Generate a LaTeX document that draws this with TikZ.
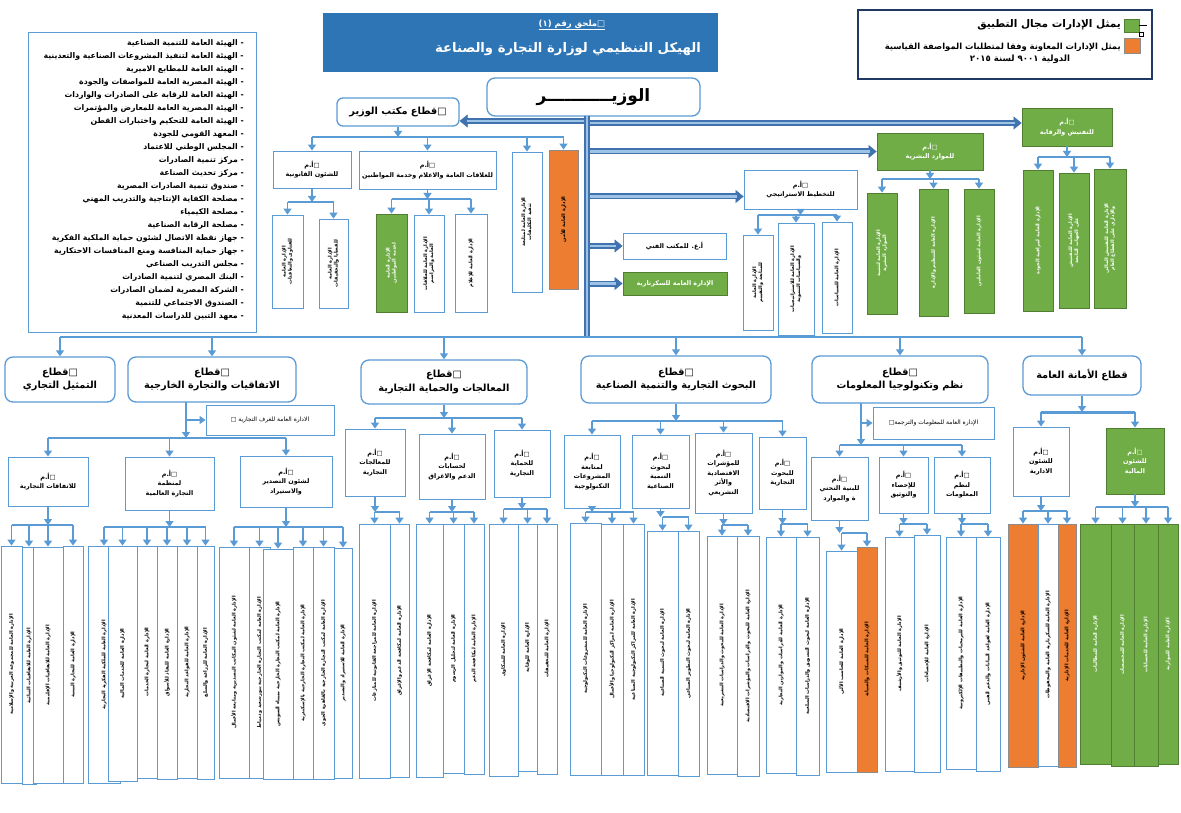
\documentclass[tikz,border=0pt]{standalone}
\usepackage{fontspec}
\usetikzlibrary{arrows.meta}
\TeXXeTstate=1
\newfontfamily\arf[Script=Arabic]{DejaVu Sans}
\newcommand\AR[1]{\beginR#1\endR}
\newcommand\fsz[2]{\fontsize{#1}{#2}\selectfont}
\newcommand\vt[1]{\rotatebox{90}{\AR{#1}}}
\newcommand\vtt[2]{\rotatebox{90}{\begin{tabular}{@{}c@{}}#1\\#2\end{tabular}}}
\newcommand\bx[7]{\node[#1, minimum width={#4-#2}, minimum height={#5-#3}] (#6) at ({(#2+#4)/2},{(#3+#5)/2}) {#7};}
\newcommand\tr[5]{\draw[arr] (#1.south) -- (#1.south |- 0,#2); \draw[ln] (#3.north |- 0,#2) -- (#4.north |- 0,#2); \foreach \c in {#5} {\draw[arr] (\c.north |- 0,#2) -- (\c.north);}}
\newcommand\blk[2]{\draw[tkh] (#1) -- (#2); \draw[tko, shorten >=7pt] (#1) -- (#2); \draw[tki, shorten >=7pt] (#1) -- (#2);}
\definecolor{bl}{HTML}{5B9BD5}
\definecolor{grn}{HTML}{70AD47}
\definecolor{grnb}{HTML}{507E32}
\definecolor{org}{HTML}{ED7D31}
\definecolor{orgb}{HTML}{8C8C8C}
\definecolor{ttl}{HTML}{2E75B6}
\definecolor{navy}{HTML}{1F3864}
\definecolor{tkd}{HTML}{3F72AF}
\definecolor{tkl}{HTML}{9DC3E6}
\begin{document}
\begin{tikzpicture}[x=1pt,y=-1pt, font=\arf\bfseries,
 ln/.style={draw=bl, line width=1.4pt},
 arr/.style={ln, -{Triangle[length=6pt,width=8pt]}},
 tko/.style={draw=tkd, line width=6pt},
 tki/.style={draw=tkl, line width=2.2pt},
 tkh/.style={draw=tkd, line width=0.5pt, -{Triangle[length=8pt,width=13pt]}},
 rb/.style={draw=bl, line width=1.3pt, rounded corners=8pt, fill=white, align=center, inner sep=1pt, font=\arf\bfseries\fsz{9.8}{13.5}},
 sb/.style={draw=bl, line width=0.9pt, fill=white, align=center, inner sep=1pt, font=\arf\bfseries\fsz{6.4}{9.5}},
 gb/.style={sb, fill=grn, draw=grnb, text=white},
 ob/.style={sb, fill=org, draw=orgb},
 vb/.style={draw=bl, line width=0.8pt, fill=white, inner sep=0pt, font=\arf\bfseries\fsz{4.9}{6}},
 vg/.style={vb, fill=grn, draw=grnb, text=white},
 vo/.style={vb, fill=org, draw=orgb}]
\useasboundingbox (0,0) rectangle (1181,813);
\fill[white] (0,0) rectangle (1181,813);

% title
\node[fill=ttl, draw=ttl, minimum width=394, minimum height=58, inner sep=0] (ttl) at (520,42) {};
\node[text=white, font=\arf\bfseries\fsz{8.5}{10}] (tt1) at (572,25) {\underline{\AR{□ملحق رقم (١)}}};
\node[text=white, font=\arf\bfseries\fsz{13.2}{16}] (tt2) at (568,49) {\AR{الهيكل التنظيمي لوزارة التجارة والصناعة}};

% legend
\node[draw=navy, line width=2.5pt, minimum width=294, minimum height=69, inner sep=0] (lgd) at (1005,44.5) {};
\node[fill=grn, draw=grnb, minimum width=15, minimum height=13, inner sep=0] (lg) at (1131.5,25.5) {};
\node[fill=org, draw=orgb, minimum width=16, minimum height=15, inner sep=0] (lo) at (1132,45.5) {};
\draw[black, line width=0.6pt] (lg.east) -- ++(8,0);
\node[draw=black, line width=0.4pt, minimum size=4, inner sep=0] (lsq) at (1141,34) {};
\node[anchor=east, inner sep=0, font=\arf\bfseries\fsz{10.5}{12}] (lgt) at (1121,25) {\AR{يمثل الإدارات مجال التطبيق}};
\node[anchor=east, inner sep=0, font=\arf\bfseries\fsz{8.4}{11}] (lot) at (1121,47) {\AR{يمثل الإدارات المعاونة وفقا لمتطلبات المواصفة القياسية}};
\node[inner sep=0, font=\arf\bfseries\fsz{8.6}{11}] (lot2) at (1020,59.5) {\AR{الدولية ٩٠٠١ لسنة ٢٠١٥}};

% left list
\node[draw=bl, line width=1pt, minimum width=228, minimum height=300, inner sep=0] (lst) at (142,182.5) {};
\node[anchor=north east, align=right, inner sep=0, font=\arf\bfseries\fsz{7.8}{13}] (lsttx) at (244,39) {%
\AR{- الهيئة العامة للتنمية الصناعية}\\
\AR{- الهيئة العامة لتنفيذ المشروعات الصناعية والتعدينية}\\
\AR{- الهيئة العامة للمطابع الاميرية}\\
\AR{- الهيئة المصرية العامة للمواصفات والجودة}\\
\AR{- الهيئة العامة للرقابة على الصادرات والواردات}\\
\AR{- الهيئة المصرية العامة للمعارض والمؤتمرات}\\
\AR{- الهيئة العامة للتحكيم واختبارات القطن}\\
\AR{- المعهد القومي للجودة}\\
\AR{- المجلس الوطني للاعتماد}\\
\AR{- مركز تنمية الصادرات}\\
\AR{- مركز تحديث الصناعة}\\
\AR{- صندوق تنمية الصادرات المصرية}\\
\AR{- مصلحة الكفاية الإنتاجية والتدريب المهني}\\
\AR{- مصلحة الكيمياء}\\
\AR{- مصلحة الرقابة الصناعية}\\
\AR{- جهاز نقطة الاتصال لشئون حماية الملكية الفكرية}\\
\AR{- جهاز حماية المنافسة ومنع المنافسات الاحتكارية}\\
\AR{- مجلس التدريب الصناعي}\\
\AR{- البنك المصري لتنمية الصادرات}\\
\AR{- الشركة المصرية لضمان الصادرات}\\
\AR{- الصندوق الاجتماعي للتنمية}\\
\AR{- معهد التبين للدراسات المعدنية}};

% minister and top level
\node[rb, minimum width=213, minimum height=38, font=\arf\bfseries\fsz{17}{20}] (min) at (593.5,97) {\AR{الوزيـــــــــــر}};
\bx{rb, rounded corners=6pt}{337}{98}{459}{126}{off}{\AR{□قطاع مكتب الوزير}}
\bx{sb}{273}{151}{351}{188}{leg}{\AR{□أ.م}\\\AR{للشئون القانونية}}
\bx{sb}{359}{151}{496}{189}{pr}{\AR{□أ.م}\\\AR{للعلاقات العامة والاعلام وخدمة المواطنين}}
\bx{vb}{512}{152}{542}{292}{w1}{\vtt{\AR{الإدارة العامة لمتابعة}}{\AR{تنفيذ التكليفات}}}
\bx{vo}{549}{150}{578}{289}{o1}{\vt{الإدارة العامة للأمن}}
\bx{vb}{272}{215}{303}{308}{lc1}{\vtt{\AR{الإدارة العامة}}{\AR{للفتاوى والتعاقدات}}}
\bx{vb}{319}{219}{348}{308}{lc2}{\vtt{\AR{الإدارة العامة}}{\AR{للقضايا والتحقيقات}}}
\bx{vg}{376}{214}{407}{312}{pc1}{\vtt{\AR{الإدارة العامة}}{\AR{لخدمة المواطنين}}}
\bx{vb}{414}{215}{444}{312}{pc2}{\vtt{\AR{الإدارة العامة للعلاقات}}{\AR{العامة والمراسم}}}
\bx{vb}{455}{214}{487}{312}{pc3}{\vt{الإدارة العامة للإعلام}}

\bx{sb}{744}{170}{857}{209}{sp}{\AR{□أ.م}\\\AR{للتخطيط الاستراتيجي}}
\bx{vb}{743}{235}{773}{330}{sc1}{\vtt{\AR{الإدارة العامة}}{\AR{للمتابعة والتقييم}}}
\bx{vb}{778}{223}{814}{335}{sc2}{\vtt{\AR{الإدارة العامة للاستراتيجيات}}{\AR{والسياسات التنموية}}}
\bx{vb}{822}{222}{852}{333}{sc3}{\vt{الإدارة العامة للسياسات}}
\bx{sb}{623}{233}{726}{259}{tech}{\AR{أ.ع. للمكتب الفني}}
\bx{gb}{623}{272}{727}{295}{sec}{\AR{الإدارة العامة للسكرتارية}}

\bx{gb}{877}{133}{983}{170}{hr}{\AR{□أ.م}\\\AR{للموارد البشرية}}
\bx{vg}{867}{193}{897}{314}{hc1}{\vtt{\AR{الإدارة العامة لتنمية}}{\AR{الموارد البشرية}}}
\bx{vg}{919}{189}{948}{316}{hc2}{\vt{الإدارة العامة للتنظيم والإدارة}}
\bx{vg}{964}{189}{994}{313}{hc3}{\vt{الإدارة العامة لشئون العاملين}}
\bx{gb}{1022}{108}{1112}{146}{ins}{\AR{□أ.م}\\\AR{للتفتيش والرقابة}}
\bx{vg}{1023}{170}{1053}{311}{ic1}{\vt{الإدارة العامة لمراقبة الجودة}}
\bx{vg}{1059}{173}{1089}{308}{ic2}{\vtt{\AR{الإدارة العامة للتفتيش}}{\AR{على الجهات التابعة}}}
\bx{vg}{1094}{169}{1126}{308}{ic3}{\vtt{\AR{الإدارة العامة للتفتيش المالي}}{\AR{والإداري على القطاع العام}}}

% sectors
\bx{rb}{5}{357}{115}{402}{s1}{\AR{□قطاع}\\\AR{التمثيل التجاري}}
\bx{rb}{128}{357}{296}{402}{s2}{\AR{□قطاع}\\\AR{الاتفاقيات والتجارة الخارجية}}
\bx{rb}{361}{360}{527}{404}{s3}{\AR{□قطاع}\\\AR{المعالجات والحماية التجارية}}
\bx{rb}{581}{356}{771}{403}{s4}{\AR{□قطاع}\\\AR{البحوث التجارية والتنمية الصناعية}}
\bx{rb}{812}{356}{988}{403}{s5}{\AR{□قطاع}\\\AR{نظم وتكنولوجيا المعلومات}}
\bx{rb}{1023}{356}{1141}{395}{s6}{\AR{قطاع الأمانة العامة}}

\bx{sb, font=\arf\fsz{6}{8}}{206}{405}{334}{435}{gt}{\AR{الادارة العامة للغرف التجارية □}}
\bx{sb}{8}{457}{88}{506}{a1}{\AR{□أ.م}\\\AR{للاتفاقات التجارية}}
\bx{sb}{125}{457}{214}{510}{a2}{\AR{□أ.م}\\\AR{لمنظمة}\\\AR{التجارة العالمية}}
\bx{sb}{240}{456}{332}{507}{a3}{\AR{□أ.م}\\\AR{لشئون التصدير}\\\AR{والاستيراد}}
\bx{sb}{345}{429}{405}{496}{m1}{\AR{□أ.م}\\\AR{للمعالجات}\\\AR{التجارية}}
\bx{sb}{419}{434}{485}{499}{m2}{\AR{□أ.م}\\\AR{لحسابات}\\\AR{الدعم والاغراق}}
\bx{sb}{494}{430}{550}{497}{m3}{\AR{□أ.م}\\\AR{للحماية}\\\AR{التجارية}}
\bx{sb}{564}{435}{620}{508}{r1}{\AR{□أ.م}\\\AR{لمتابعة}\\\AR{المشروعات}\\\AR{التكنولوجية}}
\bx{sb}{632}{435}{689}{508}{r2}{\AR{□أ.م}\\\AR{لبحوث}\\\AR{التنمية}\\\AR{الصناعية}}
\bx{sb}{695}{433}{752}{513}{r3}{\AR{□أ.م}\\\AR{للمؤشرات}\\\AR{الاقتصادية}\\\AR{والأثر}\\\AR{التشريعي}}
\bx{sb}{759}{437}{806}{509}{r4}{\AR{□أ.م}\\\AR{للبحوث}\\\AR{التجارية}}
\bx{sb, font=\arf\fsz{6}{8}}{873}{407}{994}{439}{it}{\AR{الإدارة العامة للمعلومات والترجمة□}}
\bx{sb}{811}{457}{868}{520}{i1}{\AR{□أ.م}\\\AR{للبنية التحتي}\\\AR{ة والموارد}}
\bx{sb}{879}{457}{928}{513}{i2}{\AR{□أ.م}\\\AR{للإحصاء}\\\AR{والتوثيق}}
\bx{sb}{934}{457}{990}{513}{i3}{\AR{□أ.م}\\\AR{لنظم}\\\AR{المعلومات}}
\bx{sb}{1013}{427}{1069}{496}{g1}{\AR{□أ.م}\\\AR{للشئون}\\\AR{الادارية}}
\bx{gb}{1106}{428}{1164}{494}{g2}{\AR{□أ.م}\\\AR{للشئون}\\\AR{المالية}}

% bottom row
\bx{vb}{1}{546}{22}{783}{b11}{\vt{الإدارة العامة للمجموعة العربية والإسلامية}}
\bx{vb}{22}{547}{36}{784}{b12}{\vt{الإدارة العامة للاتفاقيات الثنائية}}
\bx{vb}{33}{547}{63}{783}{b13}{\vt{الإدارة العامة للاتفاقيات الإقليمية}}
\bx{vb}{63}{546}{83}{783}{b14}{\vt{الإدارة العامة للتجارة البينية}}
\bx{vb}{88}{546}{120}{783}{b21}{\vt{الإدارة العامة للملكية الفكرية التجارية}}
\bx{vb}{108}{546}{137}{781}{b22}{\vt{الإدارة العامة للخدمات المالية}}
\bx{vb}{137}{546}{157}{778}{b23}{\vt{الإدارة العامة لتجارة الخدمات}}
\bx{vb}{157}{546}{177}{779}{b24}{\vt{الإدارة العامة للنفاذ للأسواق}}
\bx{vb}{177}{546}{197}{778}{b25}{\vt{الإدارة العامة للقواعد التجارية}}
\bx{vb}{197}{546}{214}{779}{b26}{\vt{الإدارة العامة للزراعة والسلع}}
\bx{vb}{219}{547}{249}{778}{b31}{\vt{الإدارة العامة لشئون المكاتب التصديرية ومتابعة الأعمال}}
\bx{vb}{249}{547}{270}{778}{b32}{\vt{الإدارة العامة لمكتب التجارة الخارجية ببورسعيد ودمياط}}
\bx{vb}{263}{549}{293}{779}{b33}{\vt{الإدارة العامة لمكتب التجارة الخارجية بميناء السويس}}
\bx{vb}{293}{547}{313}{779}{b34}{\vt{الإدارة العامة لمكتب التجارة الخارجية بالإسكندرية}}
\bx{vb}{313}{547}{334}{779}{b35}{\vt{الإدارة العامة لمكتب التجارة الخارجية بالقاهرة الجوي}}
\bx{vb}{334}{548}{352}{778}{b36}{\vt{الإدارة العامة للاستيراد والتصدير}}
\bx{vb}{359}{524}{390}{778}{bm11}{\vt{الإدارة العامة للمراجعة القانونية للمنازعات}}
\bx{vb}{390}{524}{409}{777}{bm12}{\vt{الإدارة العامة لمكافحة الدعم والإغراق}}
\bx{vb}{416}{524}{443}{777}{bm21}{\vt{الإدارة العامة لمكافحة الإغراق}}
\bx{vb}{443}{524}{464}{773}{bm22}{\vt{الإدارة العامة لتحليل الرسوم}}
\bx{vb}{464}{524}{484}{774}{bm23}{\vt{الإدارة العامة لمكافحة الدعم}}
\bx{vb}{489}{524}{518}{776}{bm31}{\vt{الإدارة العامة للشكاوى}}
\bx{vb}{518}{524}{537}{771}{bm32}{\vt{الإدارة العامة للوقاية}}
\bx{vb}{537}{524}{557}{774}{bm33}{\vt{الإدارة العامة للتحقيقات}}
\bx{vb}{570}{523}{601}{775}{br11}{\vt{الإدارة العامة للمشروعات التكنولوجية}}
\bx{vb}{601}{524}{623}{775}{br12}{\vt{الإدارة العامة لمراكز التكنولوجيا والأعمال}}
\bx{vb}{623}{524}{644}{775}{br13}{\vt{الإدارة العامة للمراكز التكنولوجية الصناعية}}
\bx{vb}{647}{531}{678}{775}{br21}{\vt{الإدارة العامة لبحوث التنمية الصناعية}}
\bx{vb}{678}{531}{699}{776}{br22}{\vt{الإدارة العامة لبحوث التطوير الصناعي}}
\bx{vb}{707}{536}{737}{774}{br31}{\vt{الإدارة العامة للبحوث والدراسات التشريعية}}
\bx{vb}{737}{536}{759}{776}{br32}{\vt{الإدارة العامة للبحوث والدراسات والمؤشرات الاقتصادية}}
\bx{vb}{766}{537}{796}{773}{br41}{\vt{الإدارة العامة للدراسات والموازين التجارية}}
\bx{vb}{796}{537}{819}{775}{br42}{\vt{الإدارة العامة لبحوث التسويق والدراسات السلعية}}
\bx{vb}{826}{551}{857}{772}{bi11}{\vt{الإدارة العامة للحاسب الآلي}}
\bx{vo}{857}{547}{877}{772}{bi12}{\vt{الإدارة العامة للشبكات والصيانة}}
\bx{vb}{885}{537}{914}{771}{bi21}{\vt{الإدارة العامة للتوثيق والأرشيف}}
\bx{vb}{914}{535}{940}{772}{bi22}{\vt{الإدارة العامة للإحصاءات}}
\bx{vb}{946}{537}{976}{769}{bi31}{\vt{الإدارة العامة للبرمجيات والتطبيقات الإلكترونية}}
\bx{vb}{976}{537}{1000}{771}{bi32}{\vt{الإدارة العامة لقواعد البيانات والدعم الفني}}
\bx{vo}{1008}{524}{1038}{767}{bg11}{\vt{الإدارة العامة للشئون الإدارية}}
\bx{vb}{1038}{524}{1058}{766}{bg12}{\vt{الإدارة العامة للسكرتارية العامة والمحفوظات}}
\bx{vo}{1058}{524}{1076}{767}{bg13}{\vt{الإدارة العامة للخدمات الإدارية}}
\bx{vg}{1080}{524}{1111}{764}{bg21}{\vt{الإدارة العامة للمطالبات}}
\bx{vg}{1111}{524}{1134}{766}{bg22}{\vt{الإدارة العامة للمخصصات}}
\bx{vg}{1134}{524}{1158}{766}{bg23}{\vt{الإدارة العامة للحسابات}}
\bx{vg}{1158}{524}{1178}{764}{bg24}{\vt{الإدارة العامة للموازنة}}

% trees
\tr{off}{137}{leg}{o1}{leg,pr,w1,o1}
\tr{leg}{202}{lc1}{lc2}{lc1,lc2}
\tr{pr}{199}{pc1}{pc3}{pc1,pc2,pc3}
\tr{sp}{215}{sc1}{sc3}{sc1,sc2,sc3}
\tr{hr}{179}{hc1}{hc3}{hc1,hc2,hc3}
\tr{ins}{157}{ic1}{ic3}{ic1,ic2,ic3}
\tr{s3}{418}{m1}{m3}{m1,m2,m3}
\tr{s4}{421}{r1}{r4}{r1,r2,r3,r4}
\tr{a1}{525}{b11}{b14}{b11,b12,b13,b14}
\tr{a2}{527}{b21}{b26}{b21,b22,b23,b24,b25,b26}
\tr{a3}{527}{b31}{b36}{b31,b32,b33,b34,b35,b36}
\tr{m1}{512}{bm11}{bm12}{bm11,bm12}
\tr{m2}{512}{bm21}{bm23}{bm21,bm22,bm23}
\tr{m3}{509}{bm31}{bm33}{bm31,bm32,bm33}
\tr{r1}{512}{br11}{br13}{br11,br12,br13}
\tr{r2}{517}{br21}{br22}{br21,br22}
\tr{r3}{525}{br31}{br32}{br31,br32}
\tr{r4}{524}{br41}{br42}{br41,br42}
\tr{i1}{533}{bi11}{bi12}{bi11,bi12}
\tr{i2}{524}{bi21}{bi22}{bi21,bi22}
\tr{i3}{524}{bi31}{bi32}{bi31,bi32}
\tr{g1}{511}{bg11}{bg13}{bg11,bg12,bg13}
\tr{g2}{507}{bg21}{bg24}{bg21,bg22,bg23,bg24}
% sector 2
\coordinate (s2a) at (186,402);
\coordinate (s2b) at (186,438);
\draw[arr] (s2a) -- (s2b);
\draw[arr] (s2a |- gt.west) -- (gt.west);
\draw[ln] (a1.north |- s2b) -- (a3.north |- s2b);
\foreach \c in {a1,a2,a3} {\draw[arr] (\c.north |- s2b) -- (\c.north);}
% sector 5
\coordinate (s5a) at (861,403);
\coordinate (s5b) at (861,445);
\draw[arr] (s5a) -- (s5b);
\draw[arr] (s5a |- it.west) -- (it.west);
\draw[ln] (i1.north |- s5b) -- (i3.north |- s5b);
\foreach \c in {i1,i2,i3} {\draw[arr] (\c.north |- s5b) -- (\c.north);}
% sector 6
\draw[arr] (s6.south) -- (s6.south |- 0,412);
\draw[ln, line width=3pt] (g1.north |- 0,412) -- (g2.north |- 0,412);
\foreach \c in {g1,g2} {\draw[arr] (\c.north |- 0,412) -- (\c.north);}

% trunk and block arrows
\coordinate (tk) at (587,116);
\coordinate (tb) at (587,337);
\coordinate (offA) at ([yshift=-9pt]off.east);
\coordinate (insA) at ([yshift=4pt]ins.west);
\coordinate (spA) at ([yshift=-7pt]sp.west);
\blk{tk |- offA}{offA}
\blk{tk |- insA}{insA}
\blk{tk |- hr.west}{hr.west}
\blk{tk |- spA}{spA}
\blk{tk |- tech.west}{tech.west}
\blk{tk |- sec.west}{sec.west}
\draw[tko] (tk) -- (tb);
\draw[tki] (tk) -- (tb);
\draw[ln, line width=2pt] (s1.north |- tb) -- (s6.north |- tb);
\foreach \s in {s1,s2,s3,s4,s5,s6} {\draw[arr] (\s.north |- tb) -- (\s.north);}
\end{tikzpicture}
\end{document}
